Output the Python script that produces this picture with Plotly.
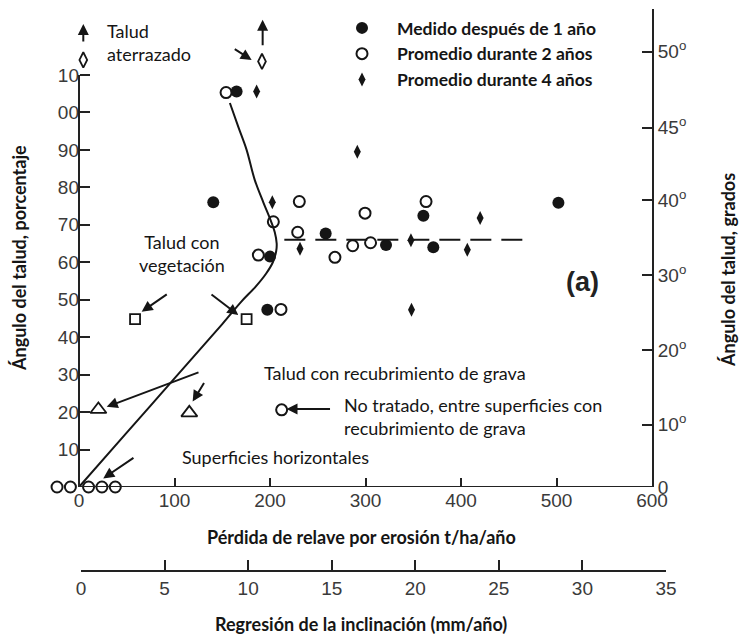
import plotly.graph_objects as go

# --- Pérdida de relave (t/ha/año) frente al ángulo del talud (%) ---
medido1_x = [140.6, 165.0, 258.3, 321.5, 371.0, 360.6, 200.0, 197.2, 502.0]
medido1_y = [76.0, 105.6, 67.7, 64.6, 64.0, 72.4, 61.5, 47.3, 75.9]

prom2_x = [154.0, 230.7, 203.5, 229.0, 268.0, 286.6, 305.3, 299.5, 363.4,
           187.8, 211.5, 212.2, -23.0, -9.0, 10.0, 24.0, 38.0]
prom2_y = [105.3, 76.2, 70.8, 68.0, 61.3, 64.4, 65.2, 73.1, 76.2,
           61.9, 47.4, 20.6, 0, 0, 0, 0, 0]

prom4_x = [186.0, 202.4, 231.4, 347.6, 406.6, 420.0, 291.4, 348.2]
prom4_y = [105.6, 76.0, 63.6, 65.9, 63.3, 71.8, 89.5, 47.3]

vegetacion_x = [58.7, 175.5]
vegetacion_y = [44.8, 44.8]

grava_x = [20.3, 115.5]
grava_y = [20.7, 19.8]

aterrazado_x = [4.5, 191.6]
aterrazado_y = [114.0, 113.6]

# tendencia general (curva suavizada)
curva_x = [0, 50, 100, 150, 170, 185, 196, 203, 206.5, 207, 205, 201, 193, 184, 175.5, 167, 158]
curva_y = [0, 14.5, 29, 43.5, 49.5, 53.5, 57, 60, 63, 65, 68, 71, 76, 82, 90, 96, 102.5]

# valor medio en taludes con grava (línea discontinua)
media_x = [215, 465]
media_y = [66, 66]

# ejes
x_ticks = list(range(0, 601, 100))
pct_ticks = list(range(0, 111, 10))
pct_labels = ["", "10", "20", "30", "40", "50", "60", "70", "80", "90", "00", "10"]
grados_pos = [0, 16.6, 36.6, 56.6, 76.6, 95.9, 116.2]
grados_lbl = ["0", "10<sup>o</sup>", "20<sup>o</sup>", "30<sup>o</sup>",
              "40<sup>o</sup>", "45<sup>o</sup>", "50<sup>o</sup>"]
mm_ticks = list(range(0, 36, 5))

# --- page geometry (pixels) ---
W, H = 740, 635
ML, MR, MT, MB = 50, 74, 9, 64
PW, PH = W - ML - MR, H - MT - MB
X_ORIG = 79        # x = 0
X_END = 652        # x = 600
Y_ZERO = 487       # main x axis line
Y_MAX = 127.6
X_MIN = -(X_ORIG - ML) * 600 / (X_END - X_ORIG)


def px(xp):
    return (xp - ML) / PW


def py(yp):
    return (H - MB - yp) / PH


INK = "#151515"
LINE = "#222"
TXT = "Lato"
TICKF = dict(family="Liberation Sans", size=19, color="#3a3a3a")

fig = go.Figure()

common = dict(mode="markers", cliponaxis=False, hoverinfo="skip")

fig.add_trace(go.Scatter(x=curva_x, y=curva_y, mode="lines",
                         line=dict(color=INK, width=2, shape="spline"),
                         showlegend=False, hoverinfo="skip"))
fig.add_trace(go.Scatter(x=media_x, y=media_y, mode="lines", yaxis="y2",
                         line=dict(color=INK, width=2, dash="21px,10px"),
                         showlegend=False, hoverinfo="skip"))

fig.add_trace(go.Scatter(x=medido1_x, y=medido1_y, name="<b>Medido después de 1 año</b>",
                         marker=dict(symbol="circle", size=12, color=INK), **common))
fig.add_trace(go.Scatter(x=prom2_x, y=prom2_y, name="<b>Promedio durante 2 años</b>",
                         marker=dict(symbol="circle-open", size=11, color=INK,
                                     line=dict(width=2, color=INK)), **common))
fig.add_trace(go.Scatter(x=prom4_x, y=prom4_y, name="<b>Promedio durante 4 años</b>",
                         marker=dict(symbol="diamond-tall", size=10, color=INK), **common))
fig.add_trace(go.Scatter(x=vegetacion_x, y=vegetacion_y, showlegend=False,
                         marker=dict(symbol="square-open", size=10, color=INK,
                                     line=dict(width=1.8, color=INK)), **common))
fig.add_trace(go.Scatter(x=grava_x, y=grava_y, showlegend=False,
                         marker=dict(symbol="triangle-up-open", size=14, color=INK,
                                     line=dict(width=1.8, color=INK)), **common))
fig.add_trace(go.Scatter(x=aterrazado_x, y=aterrazado_y, showlegend=False,
                         marker=dict(symbol="diamond-tall-open", size=11, color=INK,
                                     line=dict(width=1.8, color=INK)), **common))
# carrier for the second (mm/año) scale
fig.add_trace(go.Scatter(x=[0], y=[0], xaxis="x2", yaxis="y", mode="markers",
                         marker=dict(opacity=0), showlegend=False, hoverinfo="skip"))

axis_common = dict(showgrid=False, zeroline=False, ticks="inside", tickcolor=LINE,
                   tickwidth=2, tickfont=TICKF)

fig.update_layout(
    width=W, height=H,
    margin=dict(l=ML, r=MR, t=MT, b=MB, pad=0),
    paper_bgcolor="white", plot_bgcolor="rgba(0,0,0,0)",
    xaxis=dict(domain=[0, px(X_END)], range=[X_MIN, 600], tickvals=x_ticks,
               anchor="y", ticklen=9, showline=False, **axis_common),
    xaxis2=dict(domain=[px(81), 1], range=[0, 35], tickvals=mm_ticks, anchor="free",
                position=0, ticklen=10, showline=True, linecolor=LINE, linewidth=2,
                **axis_common),
    yaxis=dict(domain=[py(Y_ZERO), 1], range=[0, Y_MAX], tickvals=pct_ticks,
               ticktext=pct_labels, ticklen=10, anchor="free", position=px(X_ORIG),
               showline=False, **axis_common),
    yaxis2=dict(overlaying="y", side="right", anchor="x", range=[0, Y_MAX],
                tickvals=grados_pos, ticktext=grados_lbl, ticklen=10,
                showline=True, linecolor=LINE, linewidth=2, **axis_common),
    showlegend=True,
    legend=dict(x=px(327), y=py(10), xanchor="left", yanchor="top",
                font=dict(family=TXT, size=17.5, color=INK), bgcolor="rgba(0,0,0,0)",
                itemwidth=60, tracegroupgap=0),
)

# main axis lines: x from 0 to 600, left axis up to 110 %
fig.add_shape(type="line", xref="x", yref="y", x0=0, x1=600, y0=0, y1=0,
              line=dict(color=LINE, width=2))
fig.add_shape(type="line", xref="x", yref="y", x0=0, x1=0, y0=0, y1=110,
              line=dict(color=LINE, width=2))


def arrow(x, y, ax, ay):
    return dict(x=x, y=y, xref="x", yref="y", ax=ax, ay=ay, axref="pixel", ayref="pixel",
                text="", showarrow=True, arrowhead=2, arrowsize=1.1, arrowwidth=2,
                arrowcolor=INK, standoff=0)


def label(x, y, text, xanchor="left", size=18, align="left"):
    return dict(x=x, y=y, xref="x", yref="y", text=text, showarrow=False,
                xanchor=xanchor, yanchor="middle", align=align,
                font=dict(family=TXT, size=size, color=INK))


def title(xp, yp, text, angle=0):
    return dict(x=px(xp), y=py(yp), xref="paper", yref="paper", showarrow=False,
                xanchor="center", yanchor="middle", textangle=angle, text=text,
                font=dict(family=TXT, size=18, color=INK))


annotations = [
    arrow(65.6, 46.8, 26.6, -18.4),
    arrow(166.8, 45.9, -28.3, -21.7),
    arrow(29.0, 21.4, 93.3, -35.0),
    arrow(119.0, 22.8, 12.3, -20.0),
    arrow(25.4, 2.3, 31.7, -21.6),
    arrow(217.3, 20.8, 45.0, 0),
    arrow(180.8, 114.0, -18.4, -11.7),
    arrow(192.3, 124.7, 0, 27),
    arrow(4.5, 123.6, 0, 19),
    label(107.4, 62.2, "Talud con<br>vegetación", xanchor="center", align="center"),
    label(27.2, 118.7, "Talud<br>aterrazado"),
    label(191.6, 30.4, "Talud con recubrimiento de grava"),
    label(275.4, 18.8, "No tratado, entre superficies con<br>recubrimiento de grava"),
    label(105.8, 8.0, "Superficies horizontales"),
    dict(x=526.7, y=54.7, xref="x", yref="y", text="<b>(a)</b>", showarrow=False,
         xanchor="center", yanchor="middle",
         font=dict(family="Liberation Sans", size=27, color="#222")),
    title(362, 537, "<b>Pérdida de relave por erosión t/ha/año</b>"),
    title(361, 624, "<b>Regresión de la inclinación (mm/año)</b>"),
    title(19, 258, "<b>Ángulo del talud, porcentaje</b>", -90),
    title(728, 270, "<b>Ángulo del talud, grados</b>", -90),
]
fig.update_layout(annotations=annotations)

fig.write_html("out.html")
